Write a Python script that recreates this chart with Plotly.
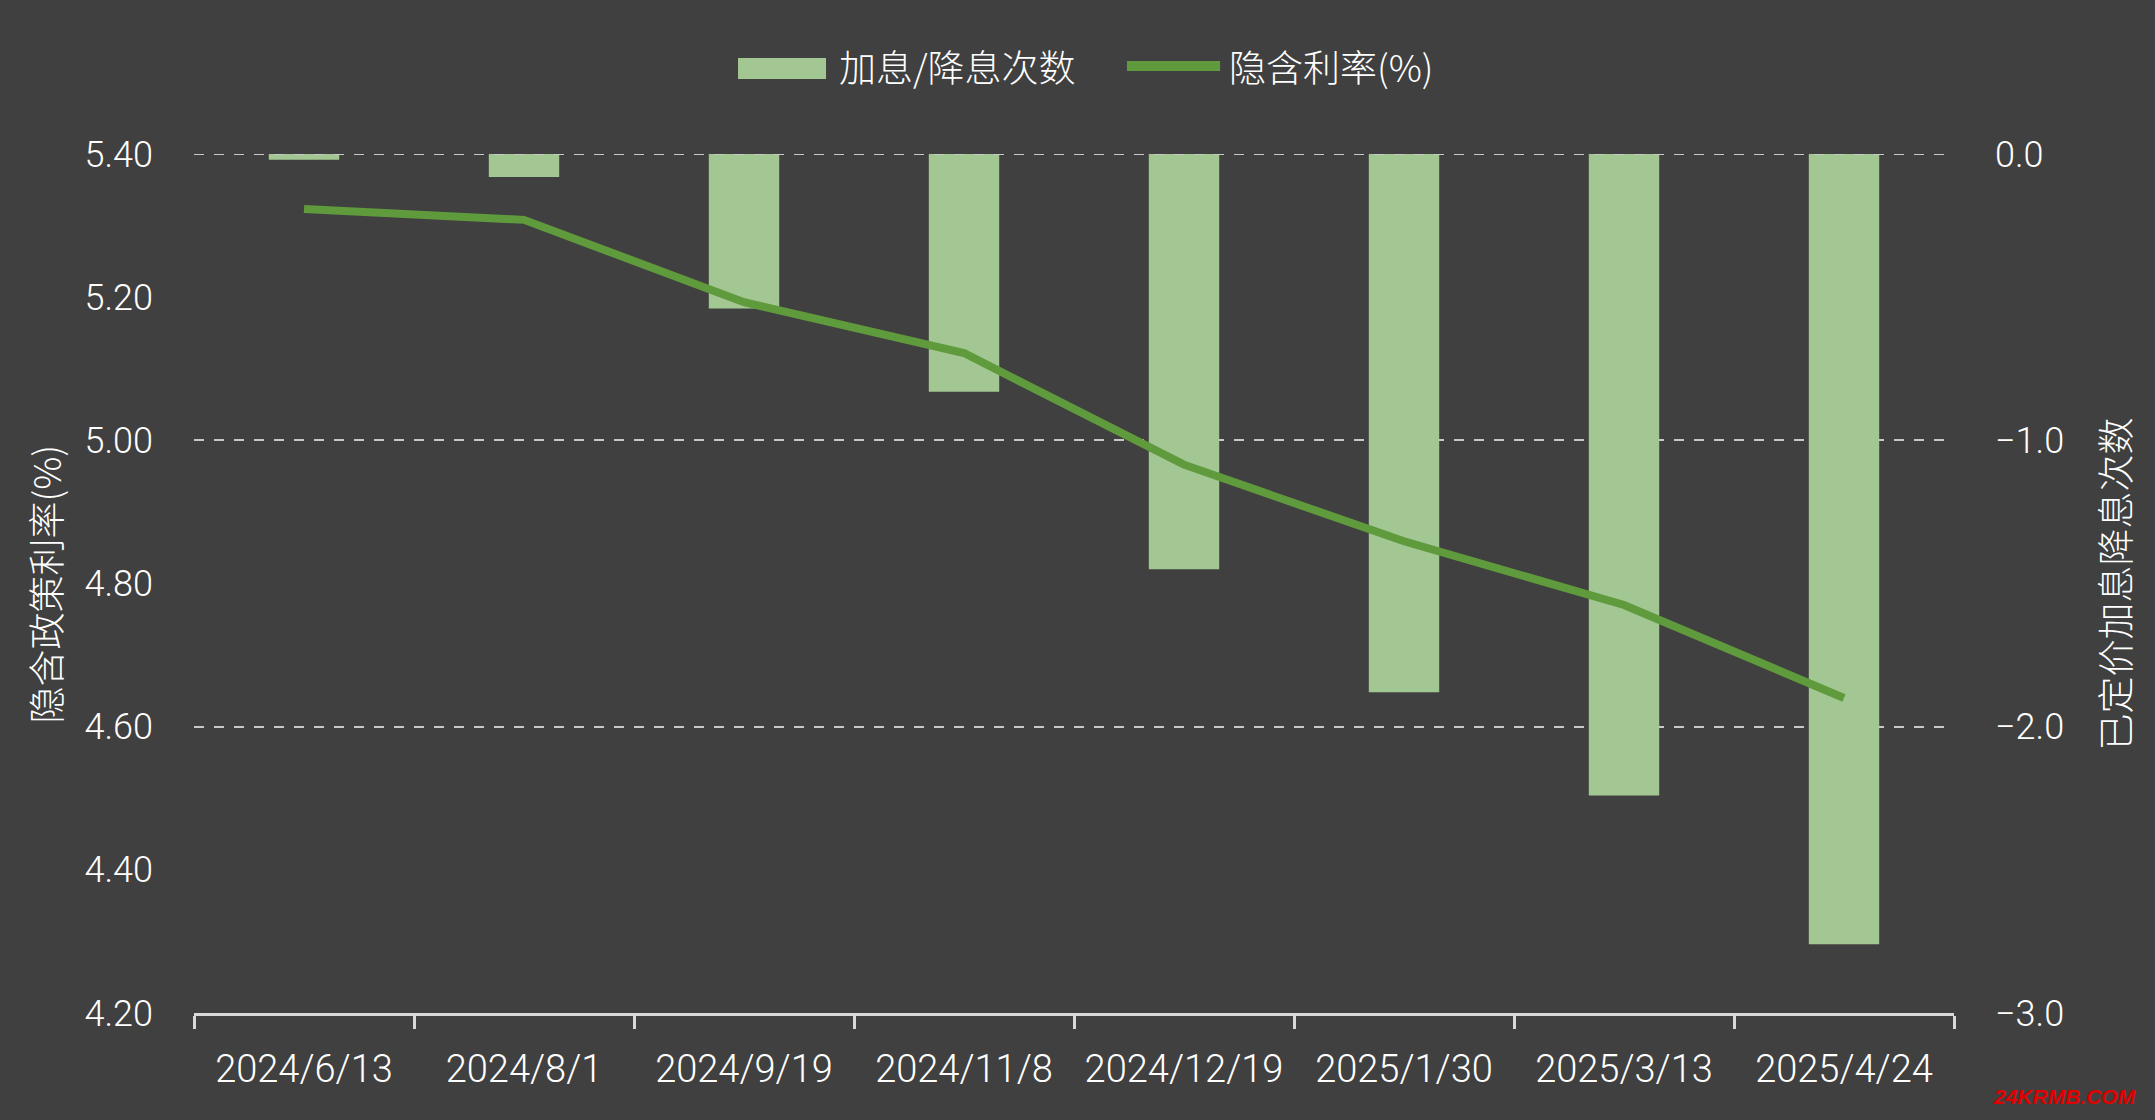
import plotly.graph_objects as go

dates = ["2024/6/13", "2024/8/1", "2024/9/19", "2024/11/8", "2024/12/19",
         "2025/1/30", "2025/3/13", "2025/4/24"]
hike_cut_counts = [-0.02, -0.08, -0.54, -0.83, -1.45, -1.88, -2.24, -2.76]
implied_rate = [5.323, 5.308, 5.193, 5.122, 4.966, 4.859, 4.770, 4.640]

left_ticks = [5.40, 5.20, 5.00, 4.80, 4.60, 4.40, 4.20]
right_ticks = [0.0, -1.0, -2.0, -3.0]

bar_name = "加息/降息次数"
line_name = "隐含利率(%)"
left_title = "隐含政策利率(%)"
right_title = "已定价加息降息次数"

BG = "#404040"
BAR = "#a3c793"
LINE = "#5f9a3c"
TXT = "#ffffff"
NUM = "Roboto, Liberation Sans, sans-serif"
CJK = "Noto Sans CJK SC, sans-serif"
GRID = "#c8c8c8"

fig = go.Figure()

fig.add_trace(go.Bar(
    x=dates, y=hike_cut_counts, yaxis="y", marker=dict(color=BAR, line=dict(width=0)),
    name=bar_name, showlegend=False,
))
fig.add_trace(go.Scatter(
    x=dates, y=implied_rate, yaxis="y2", mode="lines",
    line=dict(color=LINE, width=8), name=line_name, showlegend=False,
))

# legend placement (paper coordinates)
leg_y = 1.1025
shapes = [
    # top dashed grid line at 0.0 (edge grid line is not drawn by plotly)
    dict(type="line", xref="paper", yref="y", x0=0, x1=1, y0=0, y1=0,
         line=dict(color=GRID, width=2, dash="10px,10px"), layer="above"),
    dict(type="rect", xref="paper", yref="paper", x0=0.3091, x1=0.3591,
         y0=1.0873, y1=1.1118, fillcolor=BAR, line=dict(width=0)),
    dict(type="line", xref="paper", yref="paper", x0=0.5301, x1=0.5830,
         y0=leg_y, y1=leg_y, line=dict(color=LINE, width=10)),
]

annotations = [
    dict(text=bar_name, xref="paper", yref="paper", x=0.3653, y=leg_y,
         showarrow=False, font=dict(family=CJK, size=37, color=TXT, weight=300),
         xanchor="left", yanchor="middle"),
    dict(text=line_name, xref="paper", yref="paper", x=0.5869, y=leg_y,
         showarrow=False, font=dict(family=CJK, size=37, color=TXT, weight=300),
         xanchor="left", yanchor="middle"),
    dict(text=left_title, xref="paper", yref="paper", x=-0.0847, y=0.5,
         textangle=-90, showarrow=False, font=dict(family=CJK, size=37, color=TXT, weight=300),
         xanchor="center", yanchor="middle"),
    dict(text=right_title, xref="paper", yref="paper", x=1.0909, y=0.5,
         textangle=-90, showarrow=False, font=dict(family=CJK, size=37, color=TXT, weight=300),
         xanchor="center", yanchor="middle"),
    dict(text="<i><b>24KRMB.COM</b></i>", xref="paper", yref="paper", x=1.1045, y=-0.097,
         showarrow=False, font=dict(family="Liberation Sans", size=21, color="#e00000"),
         xanchor="right", yanchor="middle"),
]

fig.update_layout(
    width=2155, height=1120,
    paper_bgcolor=BG, plot_bgcolor=BG,
    margin=dict(l=194, r=201, t=154, b=107),
    font=dict(family=NUM, color=TXT, size=36),
    bargap=0.68,
    showlegend=False,
    xaxis=dict(
        type="category", showgrid=False, showline=True, linecolor="#d9d9d9", linewidth=3,
        ticks="outside", ticklen=13, tickwidth=3, tickcolor="#d9d9d9", tickson="boundaries",
        tickfont=dict(family=NUM, size=38, color=TXT, weight=300), ticklabelstandoff=20,
        zeroline=False,
    ),
    yaxis=dict(
        side="right", range=[-3, 0], tickvals=right_ticks, tickformat=".1f",
        showgrid=True, gridcolor=GRID, gridwidth=2, griddash="10px,10px",
        zeroline=False, showline=False, ticks="", ticklabelstandoff=40,
        tickfont=dict(family=NUM, size=36, color=TXT, weight=300),
    ),
    yaxis2=dict(
        side="left", overlaying="y", range=[4.20, 5.40], tickvals=left_ticks, tickformat=".2f",
        showgrid=False, zeroline=False, showline=False, ticks="", ticklabelstandoff=40,
        tickfont=dict(family=NUM, size=36, color=TXT, weight=300),
    ),
    shapes=shapes,
    annotations=annotations,
)

fig.write_html("out.html")
